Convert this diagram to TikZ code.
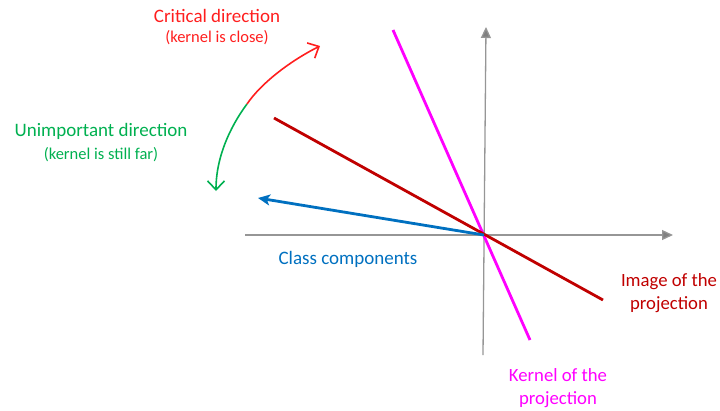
\documentclass[tikz,border=0pt]{standalone}
\usepackage{fontspec}
\setmainfont{Carlito}
\usetikzlibrary{arrows.meta}
\definecolor{cred}{RGB}{255,30,30}
\definecolor{cgreen}{RGB}{0,176,80}
\definecolor{cblue}{RGB}{0,112,192}
\definecolor{cdred}{RGB}{192,0,0}
\definecolor{cmag}{RGB}{255,0,255}
\definecolor{cgray}{RGB}{150,150,150}
\begin{document}
\begin{tikzpicture}[x=1pt,y=-1pt,
  axis/.style={draw=cgray,line width=1.3pt,-{Triangle[length=11pt,width=10pt,fill=cgray!85!black]}},
  thick line/.style={line width=2.8pt},
  barb/.style={line width=1.6pt,-{Straight Barb[length=9pt,width=17pt]}},
  lbig/.style={font=\fontsize{19}{23}\selectfont,inner sep=0pt},
  lsmall/.style={font=\fontsize{16.5}{20}\selectfont,inner sep=0pt},
  lmid/.style={font=\fontsize{18.7}{23.5}\selectfont,inner sep=0pt,align=center}]
\useasboundingbox (0,0) rectangle (720,410);
% coordinates
\coordinate (O) at (484,235);
\coordinate (xl) at (245,235);
\coordinate (xr) at (673,235);
\coordinate (yb) at (483,355);
\coordinate (yt) at (486,27);
\coordinate (k1) at (393,30);
\coordinate (k2) at (530,340);
\coordinate (i1) at (274,118);
\coordinate (i2) at (603,300);
\coordinate (c1) at (258,198);
\coordinate (m) at (247,104);
\coordinate (g) at (216,191);
\coordinate (r) at (320,46);
% axes
\draw[axis] (xl) -- (xr);
\draw[axis] (yb) -- (yt);
% lines
\draw[thick line,cmag] (k1) -- (k2);
\draw[thick line,cdred] (i1) -- (i2);
\draw[thick line,cblue,-{Stealth[length=12pt,width=11pt,inset=3pt]}] (O) -- (c1);
% curved arrow
\draw[barb,cgreen] (m) .. controls (235,120) and (216,152) .. (g);
\draw[barb,cred] (m) .. controls (262,82) and (292,60) .. (r);
% labels
\node[lbig,text=cred] (t1) at (217,16) {Critical direction};
\node[lsmall,text=cred] (t2) at (217,38) {(kernel is close)};
\node[lbig,text=cgreen] (t3) at (101,131) {Unimportant direction};
\node[lsmall,text=cgreen] (t4) at (101,155) {(kernel is still far)};
\node[lbig,text=cblue] (t5) at (348,259) {Class components};
\node[lmid,text=cdred] (t6) at (669,293) {Image of the\\projection};
\node[lmid,text=cmag] (t7) at (558,388) {Kernel of the\\projection};
\end{tikzpicture}
\end{document}
